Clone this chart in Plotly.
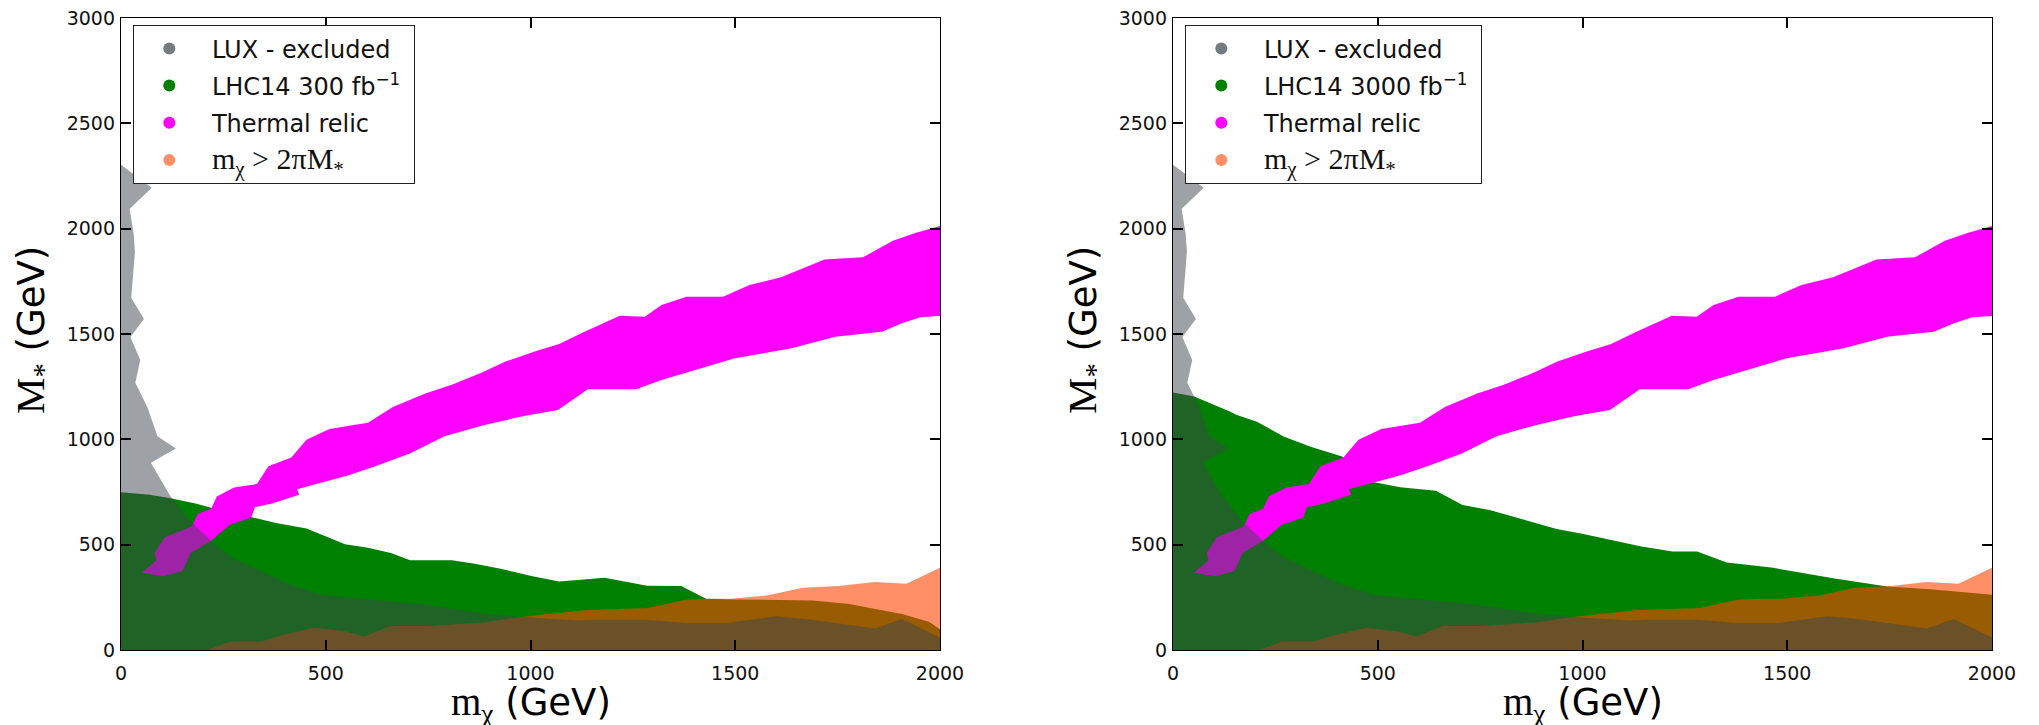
import plotly.graph_objects as go

# ---------------- data (GeV) ----------------
# LUX excluded region (same in both panels)
lux_x = [0, 75, 21, 31, 34, 25, 56, 23, 47, 35, 65, 89, 134, 73, 121, 170, 229, 270, 322, 416, 491,
         603, 743, 883, 977, 1117, 1159, 1280, 1379, 1478, 1599, 1687, 1841, 1907, 2000, 2000, 0]
lux_y = [2303, 2194, 2093, 1975, 1891, 1672, 1571, 1486, 1377, 1268, 1150, 1015, 956, 889, 729, 610, 502, 440, 392, 308, 261,
         241, 215, 173, 157, 140, 144, 144, 128, 128, 160, 144, 102, 147, 59, 0, 0]

# LHC14 300 fb^-1 reach (left panel)
lhc300_x = [0, 70, 121, 182, 229, 322, 379, 453, 547, 603, 659, 706, 808, 864, 930, 1005, 1070, 1181, 1285,
            1368, 1429, 1500, 1600, 1687, 1775, 1841, 1907, 1973, 2000, 2000, 0]
lhc300_y = [749, 737, 720, 695, 670, 628, 603, 577, 502, 485, 460, 426, 426, 409, 384, 350, 325, 343, 305,
            304, 243, 240, 238, 235, 219, 195, 171, 134, 99, 0, 0]

# LHC14 3000 fb^-1 reach (right panel)
lhc3000_x = [0, 52, 140, 156, 205, 270, 336, 413, 489, 555, 642, 707, 773, 871, 937, 1002, 1144, 1220, 1280,
             1352, 1466, 1612, 1744, 1850, 1950, 2000, 2000, 0]
lhc3000_y = [1222, 1203, 1131, 1115, 1084, 1013, 965, 918, 797, 772, 756, 688, 665, 609, 574, 551, 491, 467, 467,
             415, 390, 340, 301, 288, 272, 262, 0, 0]

# Thermal relic band (lower edge left->right, then upper edge right->left)
relic_x = [51, 103, 150, 170, 220, 266, 318, 327, 369, 435, 430, 509, 556, 621, 704, 790, 883, 977, 1067, 1140,
           1258, 1320, 1402, 1499, 1638, 1744, 1858, 1907, 1952, 2000,
           2000, 1938, 1885, 1812, 1718, 1612, 1535, 1470, 1381, 1320, 1279, 1218, 1132, 1070, 1014, 939, 883,
           808, 743, 664, 603, 509, 453, 416, 360, 332, 276, 234, 220, 187, 173, 107, 82, 87]
relic_y = [367, 350, 375, 460, 519, 594, 628, 678, 695, 737, 763, 805, 830, 872, 931, 1015, 1066, 1108, 1139, 1238,
           1238, 1282, 1329, 1385, 1432, 1487, 1511, 1551, 1579, 1585,
           2013, 1978, 1943, 1864, 1854, 1769, 1733, 1677, 1677, 1638, 1582, 1587, 1511, 1453, 1419, 1369, 1318,
           1259, 1217, 1153, 1079, 1049, 998, 914, 872, 788, 771, 729, 670, 645, 586, 535, 460, 426]

# m_chi > 2 pi M_* region
unit_x = [210, 266, 341, 397, 472, 547, 593, 659, 752, 883, 977, 1051, 1136, 1285, 1379, 1434, 1489, 1577,
          1665, 1753, 1841, 1918, 2000, 2000]
unit_y = [0, 39, 39, 72, 106, 89, 64, 114, 114, 131, 157, 173, 190, 199, 238, 243, 243, 259,
          296, 304, 323, 315, 390, 0]

x_ticks = [0, 500, 1000, 1500, 2000]
y_ticks = [0, 500, 1000, 1500, 2000, 2500, 3000]

SERIF = "Liberation Serif"
SANS = "DejaVu Sans"

legend_names = ["&nbsp;LUX - excluded", None, "&nbsp;Thermal relic",
                f"&nbsp;<span style='font-family:{SERIF};font-size:30px'>m<sub>χ</sub> > 2πM<sub>*</sub></span>"]
legend_colors = ["#737b83", "#008000", "#ff00ff", "rgba(255,69,0,0.6)"]

GREEN = "#008000"
MAGENTA = "#ff00ff"
GRAY = "rgba(62,69,77,0.5)"
ORANGE = "rgba(255,69,0,0.6)"

panels = [
    dict(xa="x", ya="y", lx=lhc300_x, ly=lhc300_y, lhc="&nbsp;LHC14 300 fb<sup>−1</sup>&nbsp;", leg="legend"),
    dict(xa="x2", ya="y2", lx=lhc3000_x, ly=lhc3000_y, lhc="&nbsp;LHC14 3000 fb<sup>−1</sup>&nbsp;", leg="legend2"),
]

fig = go.Figure()
for p in panels:
    common = dict(xaxis=p["xa"], yaxis=p["ya"], showlegend=False, hoverinfo="skip", mode="lines")
    fig.add_trace(go.Scatter(x=p["lx"], y=p["ly"], fill="toself", fillcolor=GREEN, line=dict(width=0), **common))
    fig.add_trace(go.Scatter(x=unit_x, y=unit_y, fill="toself", fillcolor=ORANGE, line=dict(width=0), **common))
    fig.add_trace(go.Scatter(x=relic_x, y=relic_y, fill="toself", fillcolor=MAGENTA, line=dict(width=0), **common))
    fig.add_trace(go.Scatter(x=lux_x, y=lux_y, fill="toself", fillcolor=GRAY, line=dict(width=0), **common))
    for i, (nm, col) in enumerate(zip(legend_names, legend_colors)):
        name = p["lhc"] if nm is None else nm
        fig.add_trace(go.Scatter(x=[None], y=[None], mode="markers", name=name,
                                 marker=dict(size=12, color=col, line=dict(width=0)),
                                 xaxis=p["xa"], yaxis=p["ya"], legend=p["leg"],
                                 legendgroup=f"{p['leg']}_{i}"))

W, H = 2039, 725
xdom1 = [121 / W, 940 / W]
xdom2 = [1173 / W, 1992 / W]
ydom = [75 / H, 707 / H]

axis_common = dict(showline=True, linecolor="black", linewidth=1.3, mirror="ticks",
                   ticks="inside", ticklen=10, tickwidth=1.5, tickcolor="black",
                   showgrid=False, zeroline=False, automargin=False,
                   tickfont=dict(family=SANS, size=19, color="#111111"))

fig.update_layout(
    width=W, height=H,
    margin=dict(l=0, r=0, t=0, b=0, autoexpand=False),
    paper_bgcolor="white", plot_bgcolor="white",
    xaxis=dict(domain=xdom1, range=[0, 2000], tickvals=x_ticks, anchor="y", ticklabelstandoff=6, **axis_common),
    yaxis=dict(domain=ydom, range=[0, 3000], tickvals=y_ticks, anchor="x", ticklabelstandoff=1, **axis_common),
    xaxis2=dict(domain=xdom2, range=[0, 2000], tickvals=x_ticks, anchor="y2", ticklabelstandoff=6, **axis_common),
    yaxis2=dict(domain=ydom, range=[0, 3000], tickvals=y_ticks, anchor="x2", ticklabelstandoff=1, **axis_common),
)

leg_common = dict(xanchor="left", yanchor="top", bgcolor="white", bordercolor="#222222", borderwidth=1.3,
                  font=dict(family=SANS, size=24, color="#111111"), itemwidth=60, tracegroupgap=3,
                  traceorder="grouped")
fig.update_layout(
    legend=dict(x=133 / W, y=(H - 25) / H, **leg_common),
    legend2=dict(x=1185 / W, y=(H - 25) / H, **leg_common),
)

xt = f"<span style='font-family:{SERIF};font-size:39px'>m<sub>χ</sub></span> (GeV)"
yt = f"<span style='font-family:{SERIF};font-size:41px'>M<sub>*</sub></span> (GeV)"
annots = []
for xa, ya in [("x", "y"), ("x2", "y2")]:
    annots.append(dict(text=xt, xref=f"{xa} domain", yref=f"{ya} domain", x=0.5, y=0,
                       xanchor="center", yanchor="middle", yshift=-54, showarrow=False,
                       font=dict(family=SANS, size=37, color="black")))
    annots.append(dict(text=yt, xref=f"{xa} domain", yref=f"{ya} domain", x=0, y=0.5,
                       xanchor="center", yanchor="middle", xshift=-88, yshift=4, textangle=-90, showarrow=False,
                       font=dict(family=SANS, size=37, color="black")))
fig.update_layout(annotations=annots)

fig.write_html("out.html",
               post_script="document.body.style.margin='0';document.body.style.overflow='hidden';")
